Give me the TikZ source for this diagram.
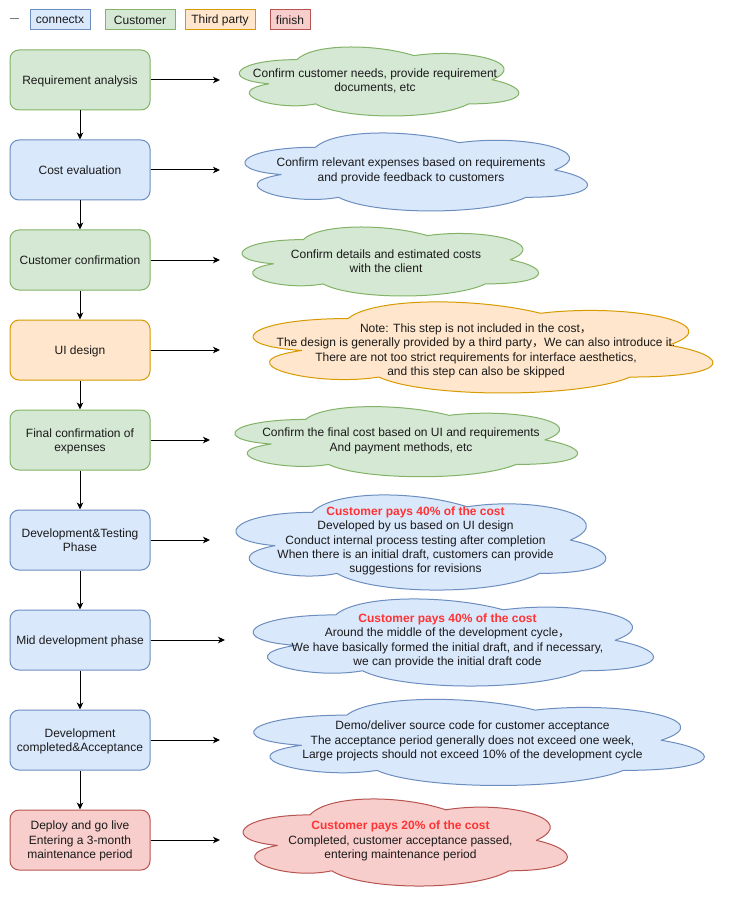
\documentclass[tikz,border=0pt]{standalone}
\usepackage{fontspec}
\setmainfont{Liberation Sans}
\newfontfamily\cjkfont{Noto Sans CJK SC}
\usetikzlibrary{arrows.meta}
\definecolor{gfill}{HTML}{D5E8D4}\definecolor{gline}{HTML}{82B366}
\definecolor{bfill}{HTML}{DAE8FC}\definecolor{bline}{HTML}{6C8EBF}
\definecolor{ofill}{HTML}{FFE6CC}\definecolor{oline}{HTML}{D79B00}
\definecolor{rfill}{HTML}{F8CECC}\definecolor{rline}{HTML}{B85450}
\definecolor{redtxt}{HTML}{FF3333}
\definecolor{txt}{HTML}{1A1A1A}
\newcommand\fwc{{\cjkfont ，}}
\newcommand\pays[1]{{\bfseries\color{redtxt}Customer pays #1\% of the cost}}
\newcommand\drawcloud[5]{%
  \draw[#1, shift={(#2,#3)}, xscale=#4, yscale=#5, line join=round]
  (0.25,0.25) .. controls (0.05,0.25) and (0,0.5) .. (0.16,0.55)
  .. controls (0,0.66) and (0.18,0.9) .. (0.31,0.8)
  .. controls (0.4,1) and (0.7,1) .. (0.8,0.8)
  .. controls (1,0.8) and (1,0.6) .. (0.875,0.5)
  .. controls (1,0.3) and (0.8,0.1) .. (0.625,0.2)
  .. controls (0.5,0.05) and (0.3,0.05) .. (0.25,0.25) -- cycle;}
\tikzset{
  base/.style={font=\fontsize{12}{14.4}\selectfont, text=txt, inner sep=0pt, align=center},
  ctext/.style={base, yshift=-1pt},
  box/.style={base, draw, line width=1pt, rounded corners=9pt, minimum width=140pt, minimum height=60pt, text depth=0pt},
  leg/.style={base, draw, line width=1pt, minimum height=20pt},
  green/.style={fill=gfill, draw=gline},
  blue/.style={fill=bfill, draw=bline},
  orange/.style={fill=ofill, draw=oline},
  red/.style={fill=rfill, draw=rline},
  arr/.style={line width=1pt, -{Stealth[length=7pt, width=6.5pt, inset=2pt]}},
}
\begin{document}
\begin{tikzpicture}[x=1pt, y=-1pt]
\useasboundingbox[fill=white] (0,0) rectangle (741,901);
% legend
\node[base, font=\fontsize{9}{10}\selectfont] (dash) at (14.5,20) {—};
\node[leg, blue, minimum width=60pt] (lg1) at (60,20) {connectx};
\node[leg, green, minimum width=70pt] (lg2) at (140,20) {Customer};
\node[leg, orange, minimum width=70pt] (lg3) at (220,20) {Third party};
\node[leg, red, minimum width=40pt] (lg4) at (290,20) {finish};
% clouds
\drawcloud{green, line width=1pt}{219}{39.5}{312}{80.5}
\drawcloud{blue, line width=1pt}{220}{124.5}{382.5}{91}
\drawcloud{green, line width=1pt}{220.5}{219.5}{331}{80.5}
\drawcloud{orange, line width=1pt}{219.6}{292}{513.4}{106.3}
\drawcloud{green, line width=1pt}{210}{399}{382.6}{81.8}
\drawcloud{blue, line width=1pt}{209}{484.6}{413}{111}
\drawcloud{blue, line width=1pt}{224}{589.5}{447}{101.6}
\drawcloud{blue, line width=1pt}{221}{690}{503}{100.5}
\drawcloud{red, line width=1pt}{219.5}{789.5}{362}{101.6}
% cloud texts
\node[ctext] (c1) at (375,80) {Confirm customer needs, provide requirement\\documents, etc};
\node[ctext] (c2) at (411,170) {Confirm relevant expenses based on requirements\\and provide feedback to customers};
\node[ctext] (c3) at (386,260) {Confirm details and estimated costs\\with the client};
\node[ctext] (c4) at (476,350) {Note: This step is not included in the cost\fwc\\The design is generally provided by a third party\fwc We can also introduce it.\\There are not too strict requirements for interface aesthetics,\\and this step can also be skipped};
\node[ctext] (c5) at (401,440) {Confirm the final cost based on UI and requirements\\And payment methods, etc};
\node[ctext] (c6) at (415.5,540) {\pays{40}\\Developed by us based on UI design\\Conduct internal process testing after completion\\When there is an initial draft, customers can provide\\suggestions for revisions};
\node[ctext] (c7) at (447.5,640) {\pays{40}\\Around the middle of the development cycle\fwc\\We have basically formed the initial draft, and if necessary,\\we can provide the initial draft code};
\node[ctext] (c8) at (472.5,740) {Demo/deliver source code for customer acceptance\\The acceptance period generally does not exceed one week,\\Large projects should not exceed 10\% of the development cycle};
\node[ctext] (c9) at (400.5,840) {\pays{20}\\Completed, customer acceptance passed,\\entering maintenance period};
% boxes
\node[box, green] (b1) at (80,80) {Requirement analysis};
\node[box, blue] (b2) at (80,170) {Cost evaluation};
\node[box, green] (b3) at (80,260) {Customer confirmation};
\node[box, orange] (b4) at (80,350) {UI design};
\node[box, green] (b5) at (80,440) {Final confirmation of\\expenses};
\node[box, blue] (b6) at (80,540) {Development\&Testing\\Phase};
\node[box, blue] (b7) at (80,640) {Mid development phase};
\node[box, blue] (b8) at (80,740) {Development\\completed\&Acceptance};
\node[box, red] (b9) at (80,840) {Deploy and go live\\Entering a 3-month\\maintenance period};
% arrow ends
\coordinate (e1) at (220,80);
\coordinate (e2) at (220,170);
\coordinate (e3) at (220,260);
\coordinate (e4) at (220,350);
\coordinate (e5) at (210,440);
\coordinate (e6) at (210,540);
\coordinate (e7) at (225,640);
\coordinate (e8) at (220,740);
\coordinate (e9) at (220,840);
\foreach \i in {1,...,9}{\draw[arr] (b\i.east) -- (e\i);}
\foreach \i/\j in {1/2,2/3,3/4,4/5,5/6,6/7,7/8,8/9}{\draw[arr] (b\i) -- (b\j);}
\end{tikzpicture}
\end{document}
